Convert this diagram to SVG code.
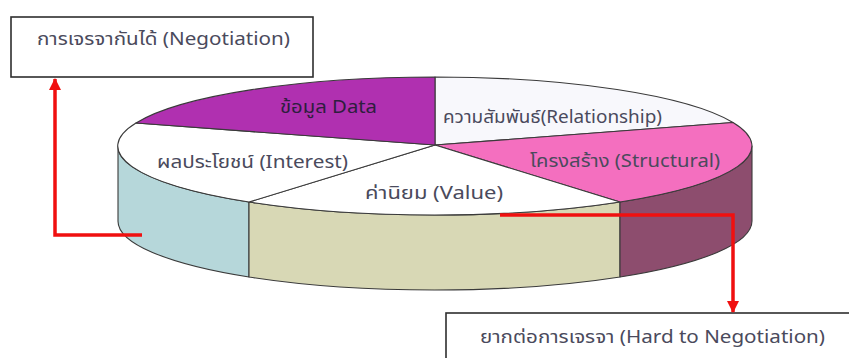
<svg xmlns="http://www.w3.org/2000/svg" width="849" height="358" viewBox="0 0 849 358">
<style>
  .lbl { font-family: "Noto Sans", "Noto Sans Thai", "DejaVu Sans", sans-serif; font-size: 18px; fill: #4a4a5c; }
  .box { fill: #ffffff; stroke: #2e2e2e; stroke-width: 1.6; }
  .edge { stroke: #3a3a3a; stroke-width: 1.1; stroke-linejoin: round; }
  .conn { fill: none; stroke: #f01010; stroke-width: 3.5; }
</style>
<defs>
  <marker id="arrow" markerUnits="userSpaceOnUse" markerWidth="12" markerHeight="12" refX="11" refY="6" orient="auto">
    <path d="M0,0 L12,6 L0,12 Z" fill="#f01010"/>
  </marker>
</defs>
<rect width="849" height="358" fill="#ffffff"/>

<g id="pie">
  <g id="side-interest"><path class="edge" fill="#b6d7da" d="M118,146 A317,69 0 0 0 249,202 L249,277 A317,69 0 0 1 118,221 Z"/></g>
  <g id="side-value"><path class="edge" fill="#d8d8b5" d="M249,202 A317,69 0 0 0 620,202 L620,277 A317,69 0 0 1 249,277 Z"/></g>
  <g id="side-structural"><path class="edge" fill="#8d4d6e" d="M620,202 A317,69 0 0 0 752,146 L752,221 A317,69 0 0 1 620,277 Z"/></g>

  <g id="slice-relationship"><path class="edge" fill="#f8f8fc" d="M435,145 L435,77 A317,69 0 0 1 733,122.5 Z"/></g>
  <g id="slice-structural"><path class="edge" fill="#f46fbf" d="M435,145 L733,122.5 A317,69 0 0 1 620,202 Z"/></g>
  <g id="slice-value"><path class="edge" fill="#ffffff" d="M435,145 L620,202 A317,69 0 0 1 249,202 Z"/></g>
  <g id="slice-interest"><path class="edge" fill="#ffffff" d="M435,145 L249,202 A317,69 0 0 1 136,123 Z"/></g>
  <g id="slice-data"><path class="edge" fill="#b030b0" d="M435,145 L136,123 A317,69 0 0 1 435,77 Z"/></g>

  <text class="lbl" x="280" y="113" textLength="97" lengthAdjust="spacingAndGlyphs" style="fill:#2e1e3e">ข้อมูล Data</text>
  <text class="lbl" x="443" y="123" textLength="219" lengthAdjust="spacingAndGlyphs">ความสัมพันธ์(Relationship)</text>
  <text class="lbl" x="530" y="167" textLength="190" lengthAdjust="spacingAndGlyphs">โครงสร้าง (Structural)</text>
  <text class="lbl" x="157" y="168" textLength="191" lengthAdjust="spacingAndGlyphs">ผลประโยชน์ (Interest)</text>
  <text class="lbl" x="365" y="199" textLength="138" lengthAdjust="spacingAndGlyphs">ค่านิยม (Value)</text>
</g>

<g id="node-negotiation">
  <rect class="box" x="11" y="17" width="302" height="60"/>
  <text class="lbl" x="37" y="45" textLength="253" lengthAdjust="spacingAndGlyphs">การเจรจากันได้ (Negotiation)</text>
</g>

<g id="node-hard">
  <rect class="box" x="446" y="313" width="420" height="60"/>
  <text class="lbl" x="480" y="343" textLength="345" lengthAdjust="spacingAndGlyphs">ยากต่อการเจรจา (Hard to Negotiation)</text>
</g>

<g id="connectors">
  <path class="conn" d="M142,235 H55 V79" marker-end="url(#arrow)"/>
  <path class="conn" d="M500,215 H733 V312" marker-end="url(#arrow)"/>
</g>
</svg>
